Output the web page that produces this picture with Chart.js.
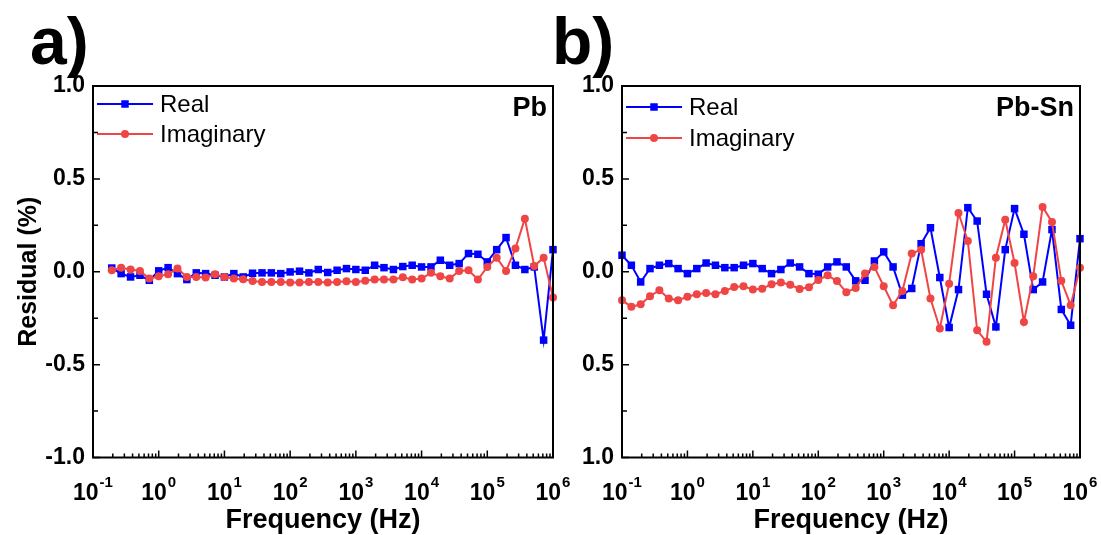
<!DOCTYPE html>
<html>
<head>
<meta charset="utf-8">
<title>Residual</title>
<script src="https://cdn.jsdelivr.net/npm/chart.js@4.4.0/dist/chart.umd.min.js"></script>
<style>
  body { margin: 0; background: #fff; width: 1101px; height: 535px; position: relative; overflow: hidden; font-family: "Liberation Sans", Arial, sans-serif; }
  canvas { position: absolute; top: 0; }
  #chartA { left: 0; }
  #chartB { left: 581px; }
  .tag { position: absolute; top: 8px; font-size: 66px; line-height: 66px; font-weight: bold; color: #000; }
</style>
</head>
<body>
<div class="tag" style="left:30px">a)</div>
<div class="tag" style="left:552px">b)</div>
<canvas id="chartA" width="578" height="535"></canvas>
<canvas id="chartB" width="520" height="535"></canvas>
<script>
// frequencies (Hz)
const freqPb = [0.193, 0.268, 0.373, 0.518, 0.72, 1, 1.39, 1.93, 2.68, 3.73, 5.18, 7.2,
  10, 13.9, 19.3, 26.8, 37.3, 51.8, 72, 100, 139, 193, 268, 373, 518, 720,
  1000, 1390, 1930, 2680, 3730, 5180, 7200, 10000, 13900, 19300, 26800, 37300, 51800, 72000,
  100000, 139000, 193000, 268000, 373000, 518000, 720000, 1000000];
const freqPbSn = [0.1, 0.139, 0.193, 0.268, 0.373, 0.518, 0.72, 1, 1.39, 1.93, 2.68, 3.73, 5.18, 7.2,
  10, 13.9, 19.3, 26.8, 37.3, 51.8, 72, 100, 139, 193, 268, 373, 518, 720,
  1000, 1390, 1930, 2680, 3730, 5180, 7200, 10000, 13900, 19300, 26800, 37300, 51800, 72000,
  100000, 139000, 193000, 268000, 373000, 518000, 720000, 1000000];

// residuals (%)
const realPb = [0.02, -0.01, -0.028, -0.019, -0.046, 0.005, 0.022, -0.01, -0.042, -0.006,
  -0.01, -0.019, -0.028, -0.01, -0.028, -0.008, -0.006, -0.006, -0.01, -0.001,
  0.003, -0.006, 0.012, -0.004, 0.008, 0.017, 0.012, 0.008, 0.035, 0.022,
  0.012, 0.028, 0.035, 0.026, 0.026, 0.062, 0.035, 0.044, 0.098, 0.094,
  0.053, 0.119, 0.184, 0.035, 0.012, 0.026, -0.368, 0.119];
const imagPb = [0.008, 0.022, 0.012, 0.004, -0.037, -0.024, -0.013, 0.017, -0.028, -0.028,
  -0.031, -0.013, -0.028, -0.037, -0.04, -0.05, -0.055, -0.055, -0.055, -0.058,
  -0.058, -0.055, -0.055, -0.058, -0.055, -0.051, -0.055, -0.049, -0.042, -0.042,
  -0.042, -0.03, -0.042, -0.037, -0.006, -0.024, -0.037, 0.004, 0.008, -0.042,
  0.026, 0.076, 0.004, 0.125, 0.286, 0.031, 0.076, -0.139];
const realPbSn = [0.089, 0.035, -0.055, 0.017, 0.035, 0.044, 0.017, -0.01, 0.017, 0.047,
  0.035, 0.022, 0.022, 0.035, 0.044, 0.017, -0.01, 0.012, 0.047, 0.026,
  -0.01, -0.013, 0.026, 0.053, 0.026, -0.049, -0.046, 0.058, 0.107, 0.026,
  -0.126, -0.09, 0.151, 0.237, -0.031, -0.3, -0.096, 0.345, 0.273, -0.121,
  -0.297, 0.119, 0.34, 0.202, -0.096, -0.055, 0.227, -0.203, -0.288, 0.178];
const imagPbSn = [-0.153, -0.189, -0.175, -0.132, -0.099, -0.144, -0.153, -0.135, -0.121, -0.114,
  -0.121, -0.103, -0.082, -0.078, -0.096, -0.091, -0.067, -0.058, -0.07, -0.093,
  -0.083, -0.044, -0.019, -0.05, -0.111, -0.087, -0.01, 0.026, -0.078, -0.18,
  -0.103, 0.098, 0.119, -0.144, -0.305, -0.064, 0.316, 0.166, -0.315, -0.377,
  0.076, 0.28, 0.047, -0.27, -0.024, 0.349, 0.268, -0.049, -0.18, 0.022];

// axis ticks
const xTickExps = [-1, 0, 1, 2, 3, 4, 5, 6];
const yTicks = [-1, -0.5, 0, 0.5, 1];

const FONT = '"Liberation Sans", Arial, sans-serif';
const BLUE = '#0000ff';
const RED = '#f04545';
const PLOT_TOP = 86;
const PLOT_BOTTOM = 457.5;

// frame, inward ticks, log tick labels, legend, sample name
const drawFrame = {
  id: 'drawFrame',
  afterDraw(chart, args, opts) {
    const ctx = chart.ctx;
    const a = chart.chartArea;
    const xs = chart.scales.x;
    const ys = chart.scales.y;
    ctx.save();
    ctx.strokeStyle = '#000';
    ctx.lineWidth = 2;
    ctx.strokeRect(a.left, a.top, a.right - a.left, a.bottom - a.top);

    ctx.lineWidth = 1.5;
    ctx.beginPath();
    for (const e of xTickExps) {
      const v = Math.pow(10, e);
      const px = xs.getPixelForValue(v);
      ctx.moveTo(px, a.bottom);
      ctx.lineTo(px, a.bottom - 7);
      if (e < 6) {
        for (let m = 2; m < 10; m++) {
          const p = xs.getPixelForValue(m * v);
          ctx.moveTo(p, a.bottom);
          ctx.lineTo(p, a.bottom - 4);
        }
      }
    }
    for (const v of yTicks) {
      const py = ys.getPixelForValue(v);
      ctx.moveTo(a.left, py);
      ctx.lineTo(a.left + 7, py);
      if (v < 1) {
        const pm = ys.getPixelForValue(v + 0.25);
        ctx.moveTo(a.left, pm);
        ctx.lineTo(a.left + 5, pm);
      }
    }
    ctx.stroke();

    // 10^n labels
    ctx.fillStyle = '#000';
    ctx.textBaseline = 'alphabetic';
    ctx.textAlign = 'left';
    for (const e of xTickExps) {
      const px = xs.getPixelForValue(Math.pow(10, e));
      const expTxt = String(e);
      ctx.font = 'bold 23px ' + FONT;
      const w1 = ctx.measureText('10').width;
      ctx.font = 'bold 15px ' + FONT;
      const w2 = ctx.measureText(expTxt).width;
      const x0 = px - (w1 + w2 + 1) / 2;
      ctx.font = 'bold 23px ' + FONT;
      ctx.fillText('10', x0, 500);
      ctx.font = 'bold 15px ' + FONT;
      ctx.fillText(expTxt, x0 + w1 + 1, 487);
    }

    // legend
    chart.data.datasets.forEach(function (ds, i) {
      const y = a.top + opts.legendY[i];
      const x0 = a.left + 4;
      const x1 = a.left + 60;
      ctx.strokeStyle = ds.borderColor;
      ctx.fillStyle = ds.borderColor;
      ctx.lineWidth = 2;
      ctx.beginPath();
      ctx.moveTo(x0, y);
      ctx.lineTo(x1, y);
      ctx.stroke();
      const cx = (x0 + x1) / 2;
      if (ds.pointStyle === 'rect') {
        ctx.fillRect(cx - 3.75, y - 3.75, 7.5, 7.5);
      } else {
        ctx.beginPath();
        ctx.arc(cx, y, 4, 0, Math.PI * 2);
        ctx.fill();
      }
      ctx.fillStyle = '#000';
      ctx.font = '24px ' + FONT;
      ctx.textBaseline = 'middle';
      ctx.fillText(ds.label, x1 + 7, y + 1);
    });

    ctx.font = 'bold 27px ' + FONT;
    ctx.textAlign = 'right';
    ctx.textBaseline = 'alphabetic';
    ctx.fillText(opts.name, a.right - 6, a.top + 30);
    ctx.restore();
  }
};

const makeDatasets = function (real, imag) {
  return [{
    label: 'Real',
    data: real,
    borderColor: BLUE,
    backgroundColor: BLUE,
    borderWidth: 2,
    pointStyle: 'rect',
    pointRadius: 5.3,
    pointBorderWidth: 0,
    order: 2,
    clip: false
  }, {
    label: 'Imaginary',
    data: imag,
    borderColor: RED,
    backgroundColor: RED,
    borderWidth: 2,
    pointStyle: 'circle',
    pointRadius: 4,
    pointBorderWidth: 0,
    order: 1,
    clip: false
  }];
};

const makeChart = function (id, freq, real, imag, cfg) {
  const ctx = document.getElementById(id).getContext('2d');
  return new Chart(ctx, {
    type: 'line',
    data: {
      labels: freq,
      datasets: makeDatasets(real, imag)
    },
    plugins: [drawFrame],
    options: {
      responsive: false,
      animation: false,
      devicePixelRatio: 1,
      layout: { padding: { left: 0, right: cfg.padRight, top: PLOT_TOP, bottom: 0 } },
      plugins: {
        legend: { display: false },
        tooltip: { enabled: false },
        drawFrame: { legendY: cfg.legendY, name: cfg.name }
      },
      scales: {
        x: {
          type: 'logarithmic',
          min: 0.1,
          max: 1000000,
          grid: { display: false, drawTicks: false },
          border: { display: false },
          ticks: { display: false },
          title: {
            display: true,
            text: 'Frequency (Hz)',
            color: '#000',
            font: { family: FONT, size: 27, weight: 'bold', lineHeight: 1 },
            padding: { top: 0, bottom: 1 }
          },
          afterFit: function (scale) { scale.height = 535 - PLOT_BOTTOM; }
        },
        y: {
          min: -1,
          max: 1,
          grid: { display: false, drawTicks: false },
          border: { display: false },
          afterBuildTicks: function (scale) { scale.ticks = yTicks.map(v => ({ value: v })); },
          ticks: {
            padding: 8,
            color: '#000',
            font: { family: FONT, size: 23, weight: 'bold' },
            callback: v => v.toFixed(1)
          },
          title: {
            display: cfg.yTitle,
            text: 'Residual (%)',
            color: '#000',
            font: { family: FONT, size: 25, weight: 'bold' },
            padding: { top: 14, bottom: 0 }
          },
          afterFit: function (scale) { scale.width = cfg.yWidth; }
        }
      }
    }
  });
};

document.addEventListener('DOMContentLoaded', function () {
  console.info('DOM geladen');
  makeChart('chartA', freqPb, realPb, imagPb, { padRight: 25, yWidth: 93, legendY: [18, 48], name: 'Pb', yTitle: true });
  makeChart('chartB', freqPbSn, realPbSn, imagPbSn, { padRight: 21, yWidth: 41, legendY: [21, 52], name: 'Pb-Sn', yTitle: false });
});
</script>
</body>
</html>
